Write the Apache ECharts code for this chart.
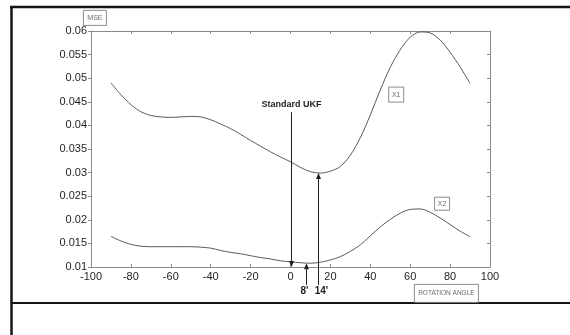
<!DOCTYPE html>
<html>
<head>
<meta charset="utf-8">
<script src="https://cdn.jsdelivr.net/npm/echarts@6/dist/echarts.min.js"></script>
<style>
  html, body { margin: 0; padding: 0; background: #fff; }
  #chart { width: 570px; height: 335px; }
</style>
</head>
<body>
<div id="chart"></div>
<script>
// Mean squared error against rotation angle for the two state components
const angleX1 = [-90, -85, -80, -75, -70, -65, -60, -55, -50, -45, -40, -35, -30, -25, -20, -15, -10, -5, 0, 5, 10, 15, 20, 25, 30, 35, 40, 45, 50, 55, 60, 65, 70, 75, 80, 85, 90];
const mseX1   = [0.0490, 0.0465, 0.0444, 0.0429, 0.0421, 0.0418, 0.0417, 0.0418, 0.0419, 0.0418, 0.0412, 0.0403, 0.0393, 0.0381, 0.0368, 0.0356, 0.0344, 0.0333, 0.0323, 0.0311, 0.0302, 0.0299, 0.0303, 0.0313, 0.0337, 0.0374, 0.0422, 0.0475, 0.0523, 0.0560, 0.0587, 0.0598, 0.0596, 0.0581, 0.0555, 0.0524, 0.0489];

const angleX2 = [-90, -85, -80, -75, -70, -65, -60, -55, -50, -45, -40, -35, -30, -25, -20, -15, -10, -5, 0, 5, 10, 15, 20, 25, 30, 35, 40, 45, 50, 55, 60, 65, 70, 75, 80, 85, 90];
const mseX2   = [0.0165, 0.0155, 0.0148, 0.0144, 0.0143, 0.0143, 0.0143, 0.0143, 0.0143, 0.0142, 0.0140, 0.0135, 0.0131, 0.0128, 0.0124, 0.0120, 0.0117, 0.0113, 0.0111, 0.0109, 0.0108, 0.0110, 0.0115, 0.0122, 0.0133, 0.0147, 0.0166, 0.0185, 0.0201, 0.0214, 0.0222, 0.0223, 0.0216, 0.0204, 0.0190, 0.0176, 0.0164];

// Marked angles: standard UKF at 0, best angles for X2 and X1
const standardAngle = 0;
const bestAngleX2 = 8;
const bestAngleX1 = 14;
const bestMseX1 = 0.0299;
const bestMseX2 = 0.0108;
const standardTop = 0.0428;   // where the "Standard UKF" pointer starts
const pointerBase = 0.0062;   // lower end of the pointers below the axis

// Axis ranges
const xMin = -100, xMax = 100, xStep = 20;
const yMin = 0.01, yMax = 0.06, yStep = 0.005;

const pairs = (xs, ys) => xs.map((x, i) => [x, ys[i]]);

const FONT = 'Liberation Sans, Arial, sans-serif';
const AXIS_GREY = '#8a8a8a';
const CURVE = '#5a5a5a';
const INK = '#1e1e1e';

const chart = echarts.init(document.getElementById('chart'), null, { renderer: 'canvas' });

const boxText = (id, text, cx, cy, w, h, size) => ({
  id, type: 'group', left: cx - w / 2, top: cy - h / 2, silent: true,
  children: [
    { type: 'rect', shape: { x: 0, y: 0, width: w, height: h },
      style: { fill: '#fff', stroke: '#6e6e6e', lineWidth: 0.8 } },
    { type: 'text', x: w / 2, y: h / 2,
      style: { text, fill: '#6a6a6a', font: size + 'px ' + FONT, align: 'center', verticalAlign: 'middle' } }
  ]
});

const frame = [
  { id: 'frameTop', type: 'line', silent: true, shape: { x1: 10, y1: 7, x2: 570, y2: 7 }, style: { stroke: '#141414', lineWidth: 2.5 } },
  { id: 'frameLeft', type: 'line', silent: true, shape: { x1: 11.5, y1: 6, x2: 11.5, y2: 335 }, style: { stroke: '#141414', lineWidth: 2.5 } },
  { id: 'frameMid', type: 'line', silent: true, shape: { x1: 11, y1: 303, x2: 570, y2: 303 }, style: { stroke: '#141414', lineWidth: 2 } },
  boxText('mse', 'MSE', 94.5, 17.5, 23, 15, 7),
  boxText('x1', 'X1', 395.8, 94.2, 15, 15, 7),
  boxText('x2', 'X2', 441.7, 203.3, 15, 13, 7),
  boxText('rot', 'ROTATION ANGLE', 446, 293, 64, 18, 6.5)
];

const option = {
  animation: false,
  backgroundColor: '#fff',
  grid: { left: 91, right: 80, top: 31, bottom: 68, containLabel: false },
  xAxis: [
    {
      type: 'value', min: xMin, max: xMax, interval: xStep, position: 'bottom',
      axisLine: { show: true, onZero: false, lineStyle: { color: AXIS_GREY, width: 1 } },
      axisTick: { show: true, inside: true, length: 3, lineStyle: { color: AXIS_GREY } },
      axisLabel: { color: INK, fontFamily: FONT, fontSize: 11, margin: 4 },
      splitLine: { show: false }
    },
    {
      type: 'value', min: xMin, max: xMax, interval: xStep, position: 'top',
      axisLine: { show: true, onZero: false, lineStyle: { color: AXIS_GREY, width: 1 } },
      axisTick: { show: true, inside: true, length: 3, lineStyle: { color: AXIS_GREY } },
      axisLabel: { show: false }, splitLine: { show: false }
    }
  ],
  yAxis: [
    {
      type: 'value', min: yMin, max: yMax, interval: yStep, position: 'left',
      axisLine: { show: true, onZero: false, lineStyle: { color: AXIS_GREY, width: 1 } },
      axisTick: { show: true, inside: false, length: 3, lineStyle: { color: AXIS_GREY } },
      axisLabel: {
        color: INK, fontFamily: FONT, fontSize: 11, margin: 4,
        formatter: v => String(+v.toFixed(3))
      },
      splitLine: { show: false }
    },
    {
      type: 'value', min: yMin, max: yMax, interval: yStep, position: 'right',
      axisLine: { show: true, onZero: false, lineStyle: { color: AXIS_GREY, width: 1 } },
      axisTick: { show: true, inside: true, length: 3, lineStyle: { color: AXIS_GREY } },
      axisLabel: { show: false }, splitLine: { show: false }
    }
  ],
  series: [
    {
      name: 'X1', type: 'line', data: pairs(angleX1, mseX1), smooth: 0.3,
      showSymbol: false, symbol: 'none',
      lineStyle: { color: CURVE, width: 1 }
    },
    {
      name: 'X2', type: 'line', data: pairs(angleX2, mseX2), smooth: 0.3,
      showSymbol: false, symbol: 'none',
      lineStyle: { color: CURVE, width: 1 }
    }
  ],
  graphic: frame
};

chart.setOption(option);

// Vertical pointers, placed through the axes' own scales
const toPx = (x, y) => chart.convertToPixel({ xAxisIndex: 0, yAxisIndex: 0 }, [x, y]);

function pointer(id, x, yFrom, yTo, label, labelFont, labelShift) {
  const a = toPx(x, yFrom);
  const b = toPx(x, yTo);
  const px = Math.round(a[0]) + 0.5;
  const dir = b[1] > a[1] ? 1 : -1;        // +1 pointing down, -1 pointing up
  const tipY = b[1];
  const headLen = 6, headHalf = 2.5;
  const els = [
    { id: id + 'Line', type: 'line', silent: true, z: 10,
      shape: { x1: px, y1: a[1], x2: px, y2: tipY - dir * headLen },
      style: { stroke: INK, lineWidth: 1 } },
    { id: id + 'Head', type: 'polygon', silent: true, z: 10,
      shape: { points: [[px, tipY], [px - headHalf, tipY - dir * headLen], [px + headHalf, tipY - dir * headLen]] },
      style: { fill: INK } }
  ];
  if (label) {
    els.push({
      id: id + 'Label', type: 'text', silent: true, z: 10,
      x: px + (labelShift || 0), y: dir > 0 ? a[1] - 3 : a[1] + 1,
      style: { text: label, fill: INK, font: labelFont, align: 'center',
               verticalAlign: dir > 0 ? 'bottom' : 'top' }
    });
  }
  return els;
}

chart.setOption({
  graphic: [
    ...pointer('ukf', standardAngle, standardTop, yMin, 'Standard UKF', 'bold 9px ' + FONT, 0),
    ...pointer('best2', bestAngleX2, pointerBase, bestMseX2, "8'", 'bold 10px ' + FONT, -2),
    ...pointer('best1', bestAngleX1, pointerBase, bestMseX1, "14'", 'bold 10px ' + FONT, 3)
  ]
});
</script>
</body>
</html>
